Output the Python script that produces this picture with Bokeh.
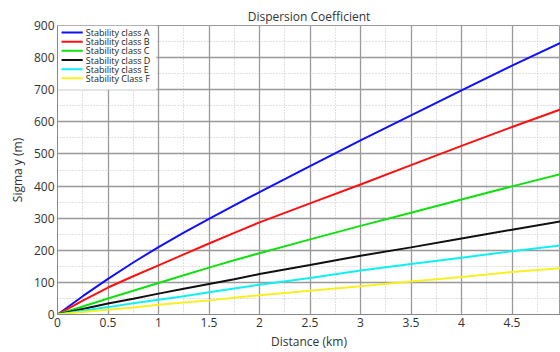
from bokeh.plotting import figure
from bokeh.models import Range1d, FixedTicker, ColumnDataSource
from bokeh.core.properties import value
from bokeh.embed import file_html
from bokeh.resources import INLINE

# Downwind distance (km) and horizontal dispersion sigma y (m) per stability class
distance_km = [0, 0.25, 0.5, 0.75, 1, 1.25, 1.5, 1.75, 2, 2.5, 3, 3.5, 4, 4.5, 5]
sigma_a = [0, 57, 111, 162, 210, 255, 298, 340, 381, 462, 542, 620, 698, 775, 849]
sigma_b = [0, 43, 84, 119, 153, 187, 221, 254, 287, 346, 405, 465, 525, 584, 641]
sigma_c = [0, 25, 50, 74, 98, 122, 146, 169, 191, 234, 276, 317, 358, 399, 439]
sigma_d = [0, 17, 34, 49, 65, 80, 95, 110, 126, 154, 183, 209, 237, 264, 291]
sigma_e = [0, 12, 23, 35, 46, 57, 69, 81, 93, 114, 137, 157, 177, 197, 216]
sigma_f = [0, 8, 15, 22, 30, 37, 44, 52, 60, 74, 88, 103, 117, 132, 145]

series_labels = ["Stability class A", "Stability class B", "Stability class C",
                 "Stability class D", "Stability class E", "Stability Class F"]
series_values = [sigma_a, sigma_b, sigma_c, sigma_d, sigma_e, sigma_f]
series_colors = ["#1010ff", "#ff1010", "#10e010", "#101010", "#10f0f0", "#f8f020"]

x_ticks = [0, 0.5, 1, 1.5, 2, 2.5, 3, 3.5, 4, 4.5]
y_ticks = [0, 100, 200, 300, 400, 500, 600, 700, 800, 900]

FONT = "Open Sans"
TEXT = "#333333"

p = figure(width=560, height=352, output_backend="svg", toolbar_location=None,
           title="Dispersion Coefficient",
           x_range=Range1d(0, 4.98), y_range=Range1d(0, 900),
           min_border_left=57, min_border_right=0, min_border_top=25,
           min_border_bottom=30)

p.title.align = "center"
p.title.text_font = FONT
p.title.text_font_size = "12px"
p.title.text_font_style = "normal"
p.title.text_color = TEXT
p.title.offset = 0
p.title.standoff = 2

p.background_fill_color = "white"
p.border_fill_color = "white"
p.outline_line_color = "#999999"

for ax in (p.xaxis[0], p.yaxis[0]):
    ax.major_label_text_font = FONT
    ax.major_label_text_font_size = "12px"
    ax.major_label_text_color = TEXT
    ax.axis_label_text_font = FONT
    ax.axis_label_text_font_size = "12px"
    ax.axis_label_text_font_style = "normal"
    ax.axis_label_text_color = TEXT
    ax.axis_line_color = "#888888"
    ax.major_tick_line_color = None
    ax.minor_tick_line_color = None
    ax.major_tick_out = 0
    ax.major_tick_in = 0
    ax.minor_tick_out = 0
    ax.minor_tick_in = 0
    ax.major_label_standoff = 3
    ax.axis_label_standoff = 3

p.yaxis[0].axis_label_standoff = 5

p.xaxis[0].ticker = FixedTicker(ticks=x_ticks, minor_ticks=[i * 0.25 for i in range(21)])
p.yaxis[0].ticker = FixedTicker(ticks=y_ticks, minor_ticks=list(range(0, 901, 50)))
p.xaxis.axis_label = "Distance (km)"
p.yaxis.axis_label = "Sigma y (m)"

for g in (p.xgrid[0], p.ygrid[0]):
    g.grid_line_color = "#999999"
    g.grid_line_width = 1.3
    g.minor_grid_line_color = "#c0c0c0"
    g.minor_grid_line_dash = "1 2"
    g.minor_grid_line_width = 1

# Compact legend panel in the upper-left corner of the plot area (white backing first)
p.quad(left=[0], right=[0.98], bottom=[700], top=[900],
       fill_color="white", fill_alpha=1.0, line_color=None)

for vals, color in zip(series_values, series_colors):
    p.line(distance_km, vals, line_color=color, line_width=2)

row_top, row_step = 878, 28.5
rows = [row_top - row_step * i for i in range(len(series_labels))]
legend_src = ColumnDataSource(dict(
    y=rows, x0=[0.04] * len(rows), x1=[0.25] * len(rows), xt=[0.28] * len(rows),
    label=series_labels, color=series_colors))
p.segment(x0="x0", y0="y", x1="x1", y1="y", line_color="color", line_width=2,
          source=legend_src)
p.text(x="xt", y="y", text="label", source=legend_src,
       text_font=value(FONT), text_font_size="9px", text_color="#222222",
       text_baseline="middle", text_align="left")

open("out.html", "w").write(file_html(p, INLINE))
